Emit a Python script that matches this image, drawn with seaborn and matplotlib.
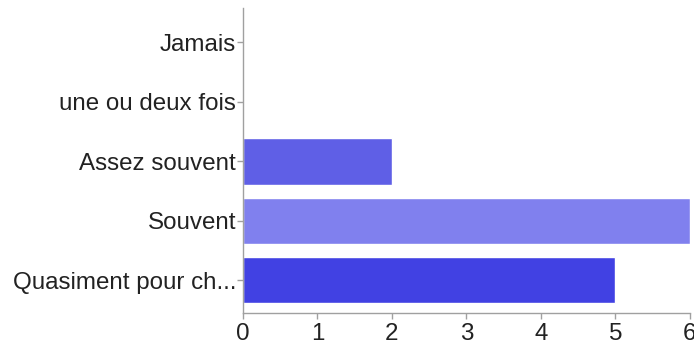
import matplotlib
matplotlib.use('Agg')
import matplotlib.pyplot as plt
import seaborn as sns
import pandas as pd

# données
categories = ['Jamais', 'une ou deux fois', 'Assez souvent', 'Souvent', 'Quasiment pour ch...']
counts = [0, 0, 2, 6, 5]
bar_colors = ['#5f5fe6', '#5f5fe6', '#5f5fe6', '#8080ee', '#4141e3']

df = pd.DataFrame({'reponse': categories, 'nombre': counts})

sns.set_style('white')
plt.rcParams['font.family'] = ['Liberation Sans', 'DejaVu Sans']

fig = plt.figure(figsize=(6.94, 3.47), dpi=100)
ax = fig.add_axes([0.350, 0.098, 0.644, 0.879])

sns.barplot(data=df, x='nombre', y='reponse', hue='reponse', palette=bar_colors,
            legend=False, width=0.78, ax=ax, saturation=1)

ax.set_xlim(0, 6)
ax.set_ylim(4.55, -0.58)
ax.set_xticks(range(0, 7))
ax.set_xlabel('')
ax.set_ylabel('')

for side in ['top', 'right']:
    ax.spines[side].set_visible(False)
for side in ['left', 'bottom']:
    ax.spines[side].set_color('#a0a0a0')
    ax.spines[side].set_linewidth(1)

ax.tick_params(axis='both', which='major', labelsize=17.4, colors='#a0a0a0',
               labelcolor='#222222', length=4, width=1, left=True, bottom=True)
ax.tick_params(axis='x', pad=3)
ax.tick_params(axis='y', pad=1)

plt.savefig('out.png', dpi=100)
